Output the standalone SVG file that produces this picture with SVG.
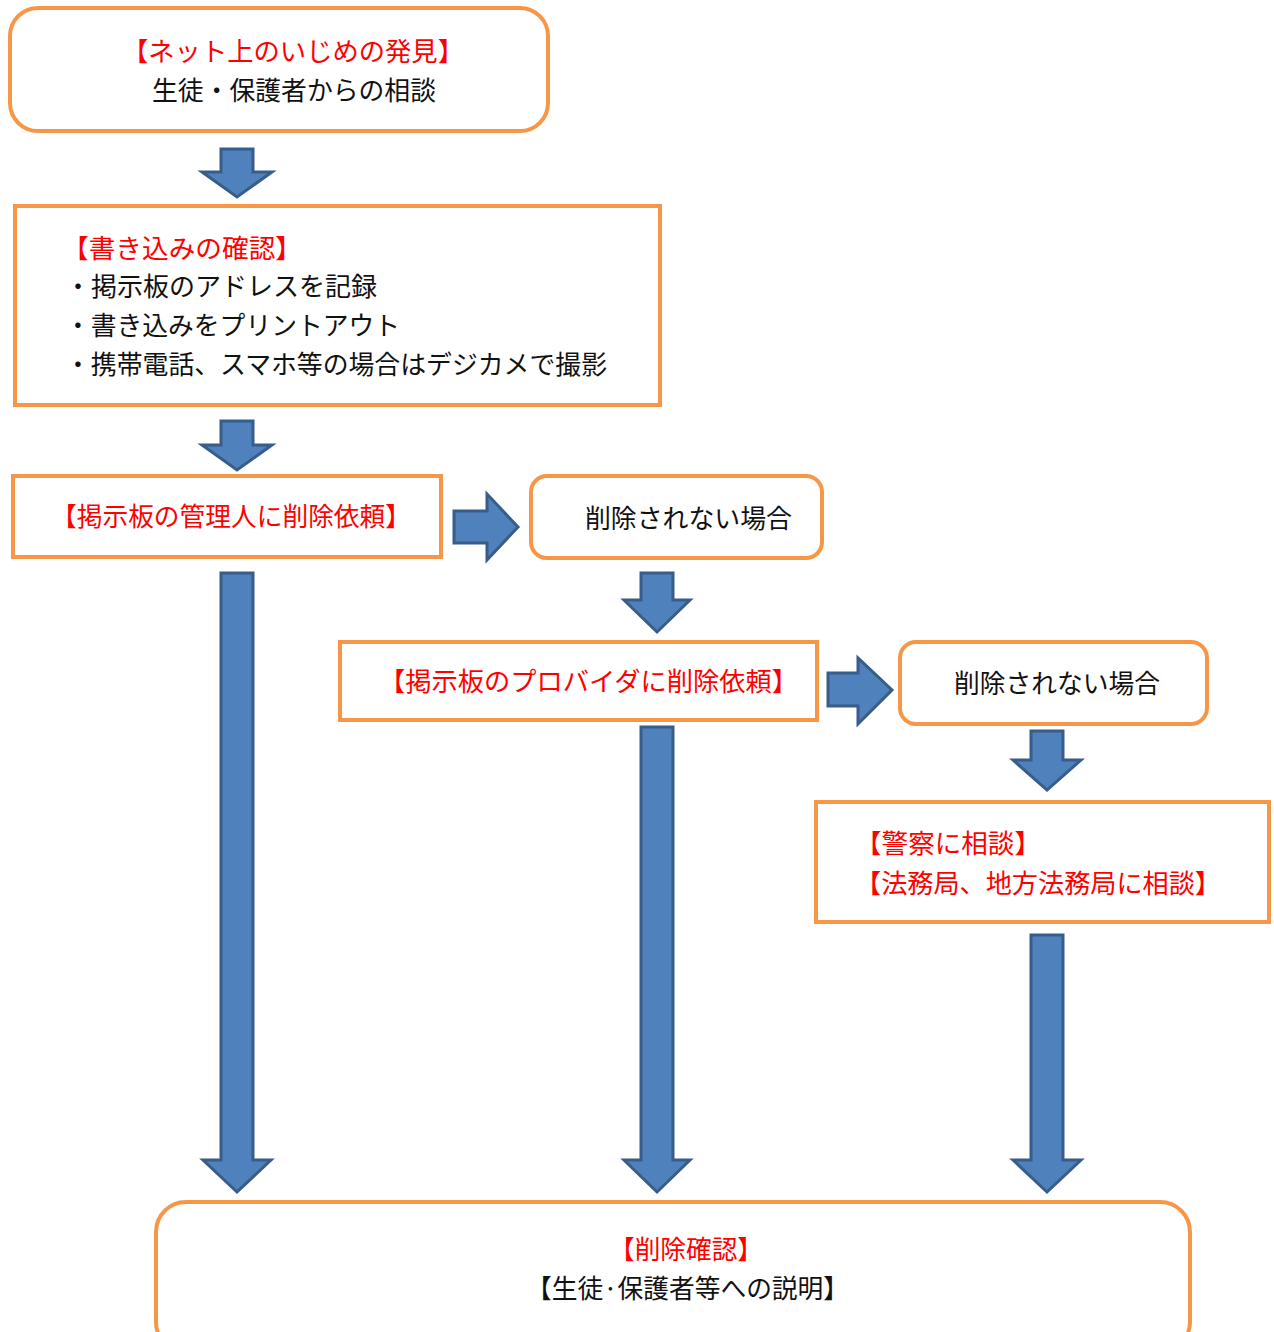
<svg xmlns="http://www.w3.org/2000/svg" width="1274" height="1332" viewBox="0 0 1274 1332">
<style>
.box{fill:#fff;stroke:#F79646;stroke-width:4}
.arr{fill:#4F81BD;stroke:#385D8A;stroke-width:3;stroke-linejoin:miter}
text{font-family:"Noto Sans CJK JP","Liberation Serif",serif;font-size:26px;fill:#111}
.r{fill:#FF0000}
</style>
<rect width="1274" height="1332" fill="#fff"/>
<g id="n1">
<rect class="box" x="10" y="8" width="538" height="123" rx="28"/>
<text class="r" x="122" y="61" textLength="342" lengthAdjust="spacingAndGlyphs">【ネット上のいじめの発見】</text>
<text x="152" y="100" textLength="284" lengthAdjust="spacingAndGlyphs">生徒・保護者からの相談</text>
</g>
<g id="n2">
<rect class="box" x="15" y="206" width="645" height="199"/>
<text class="r" x="62" y="258" textLength="240" lengthAdjust="spacingAndGlyphs">【書き込みの確認】</text>
<text x="65" y="296" textLength="312" lengthAdjust="spacingAndGlyphs">・掲示板のアドレスを記録</text>
<text x="65" y="335" textLength="335" lengthAdjust="spacingAndGlyphs">・書き込みをプリントアウト</text>
<text x="65" y="374" textLength="542" lengthAdjust="spacingAndGlyphs">・携帯電話、スマホ等の場合はデジカメで撮影</text>
</g>
<g id="n3">
<rect class="box" x="13" y="476" width="428" height="81"/>
<text class="r" x="51" y="526" textLength="360" lengthAdjust="spacingAndGlyphs">【掲示板の管理人に削除依頼】</text>
</g>
<g id="n4">
<rect class="box" x="531" y="476" width="291" height="82" rx="16"/>
<text x="585" y="528" textLength="207" lengthAdjust="spacingAndGlyphs">削除されない場合</text>
</g>
<g id="n5">
<rect class="box" x="340" y="642" width="477" height="78"/>
<text class="r" x="379" y="691" textLength="419" lengthAdjust="spacingAndGlyphs">【掲示板のプロバイダに削除依頼】</text>
</g>
<g id="n6">
<rect class="box" x="900" y="642" width="307" height="82" rx="16"/>
<text x="954" y="693" textLength="206" lengthAdjust="spacingAndGlyphs">削除されない場合</text>
</g>
<g id="n7">
<rect class="box" x="816" y="802" width="453" height="120"/>
<text class="r" x="855" y="853" textLength="186" lengthAdjust="spacingAndGlyphs">【警察に相談】</text>
<text class="r" x="855" y="893" textLength="366" lengthAdjust="spacingAndGlyphs">【法務局、地方法務局に相談】</text>
</g>
<g id="n8">
<rect class="box" x="156" y="1202" width="1034" height="150" rx="30"/>
<text class="r" x="609" y="1259" textLength="154" lengthAdjust="spacingAndGlyphs">【削除確認】</text>
<text x="526" y="1298" textLength="323" lengthAdjust="spacingAndGlyphs">【生徒·保護者等への説明】</text>
</g>
<g id="connectors">
<polygon class="arr" points="221,149 253,149 253,172 272,172 237,197 202,172 221,172"/>
<polygon class="arr" points="221,421 253,421 253,445 272,445 237,470 202,445 221,445"/>
<polygon class="arr" points="454,511 487,511 487,494 518,527 487,560 487,543 454,543"/>
<polygon class="arr" points="641,573 673,573 673,600 690,600 657,632 624,600 641,600"/>
<polygon class="arr" points="828,673 858,673 858,658 892,690 858,724 858,706 828,706"/>
<polygon class="arr" points="1031,731 1063,731 1063,760 1081,760 1047,790 1013,760 1031,760"/>
<polygon class="arr" points="221,573 253,573 253,1160 271,1160 237,1192 203,1160 221,1160"/>
<polygon class="arr" points="641,727 673,727 673,1160 690,1160 657,1192 624,1160 641,1160"/>
<polygon class="arr" points="1031,935 1063,935 1063,1160 1081,1160 1047,1192 1013,1160 1031,1160"/>
</g>
</svg>
